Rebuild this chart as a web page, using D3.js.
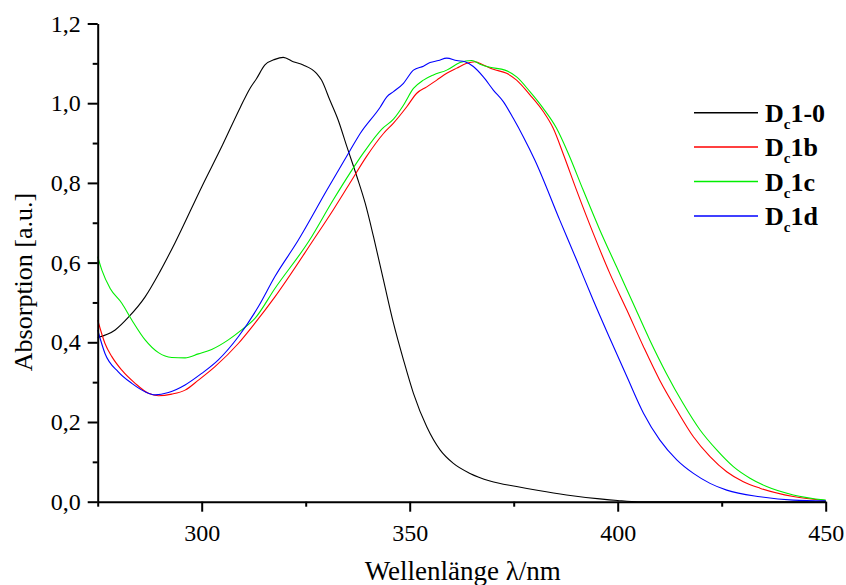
<!DOCTYPE html>
<html>
<head>
<meta charset="utf-8">
<script src="https://cdn.jsdelivr.net/npm/d3@7"></script>
<style>
  html, body { margin: 0; padding: 0; background: #fff; }
  svg text { font-family: "Liberation Serif", "Times New Roman", Times, serif; }
</style>
</head>
<body>
<svg id="chart" width="846" height="585"></svg>
<script>
// Absorption spectra, [wavelength nm, absorbance]
const seriesD0 = [[275,0.412],[279.2,0.431],[282.4,0.463],[286.4,0.514],[290.0,0.578],[293.6,0.650],[300,0.79],[305,0.895],[309.3,0.99],[311.6,1.037],[313.2,1.062],[315.2,1.096],[317.6,1.110],[319.6,1.115],[322.0,1.104],[324.4,1.096],[327.6,1.075],[328.8,1.058],[330.8,1.008],[332.8,0.958],[334.9,0.891],[337.3,0.816],[339.3,0.749],[341.3,0.665],[343.7,0.556],[346.1,0.448],[348.5,0.356],[350.9,0.272],[354.1,0.188],[357.3,0.130],[360.5,0.096],[364.5,0.071],[369.3,0.052],[375.7,0.038],[381.0,0.028],[387.7,0.017],[395.7,0.007],[400,0.003],[405,0.0],[450,0.0]];
const seriesB = [[275,0.456],[276.75,0.397],[278.4,0.364],[280.8,0.330],[284.0,0.297],[287.2,0.272],[289.6,0.266],[292.8,0.270],[296.0,0.280],[299.2,0.305],[303.2,0.339],[308.8,0.397],[312.8,0.448],[317.6,0.514],[326.8,0.656],[331.6,0.732],[335.6,0.799],[339.6,0.866],[343.7,0.924],[346.1,0.950],[349.3,0.991],[351.7,1.025],[354.1,1.041],[356.5,1.058],[358.9,1.075],[361.3,1.088],[363.7,1.100],[365.7,1.104],[367.7,1.096],[370.1,1.085],[373.3,1.075],[375.7,1.058],[378.9,1.021],[382.1,0.979],[384.5,0.937],[387.0,0.870],[390.1,0.782],[394.1,0.674],[398.1,0.573],[402.2,0.481],[406.2,0.389],[410.1,0.305],[414.2,0.230],[418.2,0.163],[422.2,0.113],[426.2,0.075],[430.2,0.050],[434.2,0.034],[442.2,0.013],[450,0.003]];
const seriesC = [[275,0.615],[276,0.581],[278,0.535],[280.8,0.498],[283.2,0.456],[286.4,0.406],[289.6,0.374],[292.8,0.362],[296.0,0.361],[299.2,0.371],[302.4,0.382],[306.4,0.406],[309.6,0.431],[312.8,0.460],[317.6,0.535],[325.9,0.656],[331.6,0.757],[335.6,0.824],[338.8,0.874],[343.3,0.935],[346.1,0.960],[348.5,0.995],[350.9,1.037],[353.3,1.058],[355.7,1.071],[358.9,1.083],[362.1,1.102],[364.9,1.107],[366.9,1.098],[369.3,1.090],[372.9,1.083],[375.7,1.066],[378.9,1.029],[382.1,0.987],[385.3,0.937],[388.2,0.872],[391.7,0.782],[395.7,0.682],[399.7,0.590],[403.7,0.498],[407.7,0.406],[411.7,0.322],[415.7,0.247],[419.8,0.180],[423.8,0.130],[427.8,0.088],[431.8,0.059],[435.8,0.038],[442.2,0.017],[450,0.004]];
const seriesD = [[275,0.431],[276.75,0.372],[279.95,0.326],[283.2,0.297],[286.4,0.276],[288.8,0.268],[292.0,0.274],[296.0,0.293],[300.0,0.322],[304.0,0.356],[308.8,0.414],[313.6,0.489],[317.6,0.565],[323.2,0.656],[330.1,0.782],[335.7,0.882],[338.1,0.924],[342.9,0.990],[344.5,1.016],[346.1,1.029],[348.5,1.050],[350.9,1.083],[353.3,1.093],[354.9,1.102],[356.9,1.107],[358.9,1.113],[361.3,1.107],[363.3,1.104],[365.3,1.092],[367.7,1.066],[370.1,1.033],[372.5,1.004],[374.9,0.962],[377.3,0.916],[380.1,0.857],[386.1,0.706],[390.1,0.607],[394.1,0.506],[398.1,0.410],[402.2,0.314],[406.2,0.222],[410.1,0.155],[414.2,0.105],[418.2,0.071],[422.2,0.046],[426.2,0.029],[434.2,0.0125],[442.2,0.004],[450,0.002]];

const seriesNames = ["1-0", "1b", "1c", "1d"];
const seriesColors = ["#000000", "#ff0000", "#00ee00", "#0000ff"];
const xMajorTicks = [300, 350, 400, 450];
const xMinorTicks = [275, 325, 375, 425];
const yMajorTicks = [0, 0.2, 0.4, 0.6, 0.8, 1.0, 1.2];
const yMinorTicks = [0.1, 0.3, 0.5, 0.7, 0.9, 1.1];

const allSeries = [seriesD0, seriesB, seriesC, seriesD];

const FONT = "'Liberation Serif', 'Times New Roman', Times, serif";
const svg = d3.select("#chart");
const margin = { left: 97.7, right: 20.3, top: 23.5, bottom: 83.3 };
const W = 846, H = 585;

const x = d3.scaleLinear().domain([275, 450]).range([margin.left, W - margin.right]);
const y = d3.scaleLinear().domain([0, 1.2]).range([H - margin.bottom, margin.top]);

const commaFmt = v => d3.format(".1f")(v).replace(".", ",");

// curves
const line = d3.line().x(d => x(d[0])).y(d => y(d[1])).curve(d3.curveMonotoneX);
svg.append("g").selectAll("path").data(allSeries).join("path")
  .attr("d", line)
  .attr("fill", "none")
  .attr("stroke", (d, i) => seriesColors[i])
  .attr("stroke-width", 1.1);

// axes
function styleAxis(g) {
  g.attr("font-family", FONT);
  g.selectAll(".domain").attr("stroke", "#000").attr("stroke-width", 2);
  g.selectAll(".tick line").attr("stroke", "#000").attr("stroke-width", 2);
  g.selectAll(".tick text").attr("fill", "#000").attr("font-size", 24)
    .attr("font-family", FONT);
}

const gxMinor = svg.append("g").attr("transform", `translate(0,${y(0)})`)
  .call(d3.axisBottom(x).tickValues(xMinorTicks).tickSize(5).tickFormat(""));
gxMinor.select(".domain").remove();
styleAxis(gxMinor);

const gx = svg.append("g").attr("transform", `translate(0,${y(0)})`)
  .call(d3.axisBottom(x).tickValues(xMajorTicks).tickSizeInner(10).tickSizeOuter(0).tickPadding(12).tickFormat(d3.format("d")));
styleAxis(gx);

const gyMinor = svg.append("g").attr("transform", `translate(${x(275)},0)`)
  .call(d3.axisLeft(y).tickValues(yMinorTicks).tickSize(5).tickFormat(""));
gyMinor.select(".domain").remove();
styleAxis(gyMinor);

const gy = svg.append("g").attr("transform", `translate(${x(275)},0)`)
  .call(d3.axisLeft(y).tickValues(yMajorTicks).tickSizeInner(10).tickSizeOuter(0).tickPadding(7).tickFormat(commaFmt));
styleAxis(gy);

// axis titles
svg.append("text")
  .attr("x", (x(275) + x(450)) / 2 + 1)
  .attr("y", 580)
  .attr("text-anchor", "middle")
  .attr("font-family", FONT)
  .attr("font-size", 27)
  .text("Wellenlänge λ/nm");

svg.append("text")
  .attr("transform", "translate(32,282) rotate(-90)")
  .attr("text-anchor", "middle")
  .attr("font-family", FONT)
  .attr("font-size", 26)
  .text("Absorption [a.u.]");

// legend
const legend = svg.append("g");
const legendTop = 112.7, legendStep = 34.4;
seriesNames.forEach((name, i) => {
  const ly = legendTop + i * legendStep;
  legend.append("line")
    .attr("x1", 694).attr("x2", 758)
    .attr("y1", ly).attr("y2", ly)
    .attr("stroke", seriesColors[i]).attr("stroke-width", 1.5);
  const t = legend.append("text")
    .attr("x", 765).attr("y", ly + 9)
    .attr("font-family", FONT)
    .attr("font-size", 26).attr("font-weight", "bold");
  t.append("tspan").text("D");
  t.append("tspan").attr("font-size", 15).attr("dy", 7).text("c");
  t.append("tspan").attr("dy", -7).text(name);
});
</script>
</body>
</html>
